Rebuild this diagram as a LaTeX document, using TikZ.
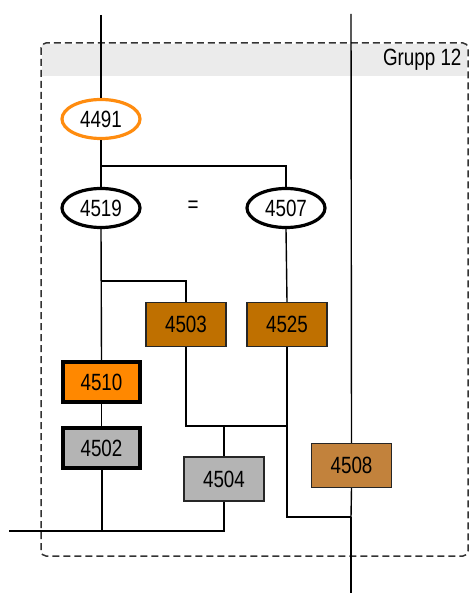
\documentclass[tikz,border=0pt]{standalone}
\usepackage{fontspec}
\newfontfamily\lblfont[FakeStretch=0.8]{Liberation Sans}
\usetikzlibrary{shapes.geometric}
\definecolor{hdrGrey}{HTML}{EBEBEB}
\definecolor{frameEdge}{HTML}{333333}
\definecolor{ringOrange}{HTML}{FF8C0F}
\definecolor{boxOrange}{HTML}{FF8800}
\definecolor{boxBrown}{HTML}{BF7000}
\definecolor{boxTan}{HTML}{C2823C}
\definecolor{boxGrey}{HTML}{B4B4B4}

\begin{document}
\begin{tikzpicture}[x=1pt, y=-1pt, font=\lblfont\fontsize{23.5}{26}\selectfont,
    link/.style={line width=1.4pt, draw=black},
    trunk/.style={line width=2pt, draw=black},
    oval/.style={ellipse, line width=3.2pt, minimum width=78pt, minimum height=39pt, inner sep=0pt},
    card/.style={rectangle, draw=black!85, line width=1.4pt, minimum width=80pt, minimum height=44pt, inner sep=0pt},
    bold card/.style={card, draw=black, line width=3.6pt, minimum width=77pt, minimum height=40pt}]
  % canvas
  \useasboundingbox (0,0) rectangle (470,593);

  % ---------------- group frame
  \fill[hdrGrey] (42,44) rectangle (467,76);
  \draw[frameEdge, line width=1.5pt, dash pattern=on 7pt off 4pt, rounded corners=5pt] (41,43) rectangle (468,556);
  \node[anchor=east] (grp) at (465,59.5) {Grupp 12};

  % ---------------- free ends and junctions
  \coordinate (topL) at (101,15);
  \coordinate (topR) at (351,14);
  \coordinate (botR) at (351,593);
  \coordinate (outL) at (9,531);
  \coordinate (jTop) at (101,166);
  \coordinate (jMid) at (101,281);
  \coordinate (jLow) at (224,426);
  \coordinate (jR) at (351,517);

  % ---------------- nodes
  \node[oval, draw=ringOrange] (n4491) at (101,119) {4491};
  \node[oval, draw=black] (n4519) at (101,208) {4519};
  \node[oval, draw=black] (n4507) at (286,208) {4507};
  \node (eq) at (193,207) {=};
  \node[card, fill=boxBrown] (n4503) at (186,324.5) {4503};
  \node[card, fill=boxBrown] (n4525) at (287,324.5) {4525};
  \node[bold card, fill=boxOrange] (n4510) at (101.5,382) {4510};
  \node[bold card, fill=boxGrey] (n4502) at (101.5,448) {4502};
  \node[card, fill=boxGrey] (n4504) at (224,479) {4504};
  \node[card, fill=boxTan] (n4508) at (351.5,465.5) {4508};

  % ---------------- connectors
  \draw[trunk] (topL) -- (n4491.north);
  \draw[link] (n4491.south) -- (n4519.north);
  \draw[link] (jTop) -| (n4507.north);
  \draw[link] (n4519.south) -- (n4510.north);
  \draw[link] (jMid) -| (n4503.north);
  \draw[link] (n4510.south) -- (n4502.north);
  \draw[link] (n4507.south) -- (n4525.north);
  \draw[link] (n4503.south) |- (n4525.south |- jLow);
  \draw[link] (jLow) -- (n4504.north);
  \draw[link] (n4525.south) |- (jR);
  \draw[trunk] (n4502.south) |- (outL);
  \draw[trunk] (n4504.south) |- (outL);
  \draw[link] (topR) -- (n4508.north);
  \draw[link] (n4508.south) -- (jR);
  \draw[trunk] (jR) -- (botR);
\end{tikzpicture}
\end{document}
